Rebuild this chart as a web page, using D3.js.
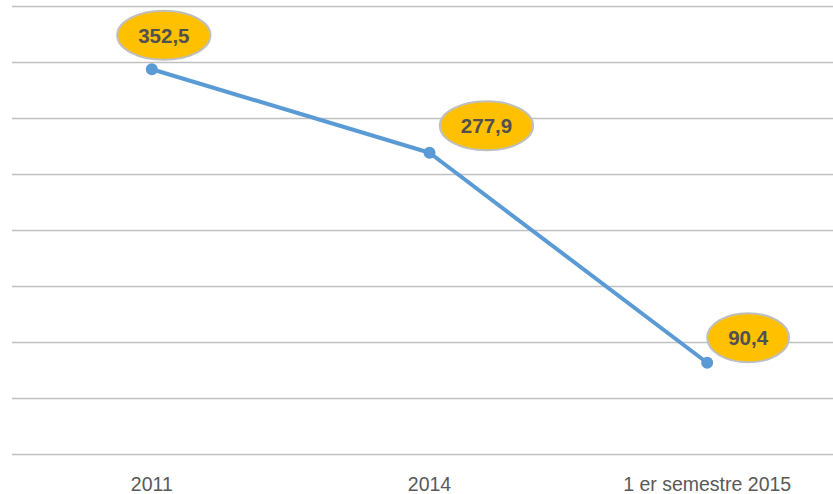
<!DOCTYPE html>
<html>
<head>
<meta charset="utf-8">
<script src="https://cdn.jsdelivr.net/npm/d3@7"></script>
<style>
  html, body { margin: 0; padding: 0; background: #fff; }
  svg { display: block; }
</style>
</head>
<body>
<svg id="chart" width="833" height="494"></svg>
<script>
// Data
const categories = ["2011", "2014", "1 er semestre 2015"];
const values = [352.5, 277.9, 90.4];
const valueLabels = ["352,5", "277,9", "90,4"];
const gridValues = [8.5, 58.5, 108.5, 158.5, 208.5, 258.5, 308.5, 358.5, 408.5];

// Layout (label bubble offsets relative to each point, in px)
const labelOffsets = [[12, -34], [57, -27], [41, -25]];

const W = 833, H = 494;
const svg = d3.select("#chart");

const x = d3.scaleBand().domain(categories).range([13, 846]).padding(0);
const y = d3.scaleLinear().domain([8.5, 408.5]).range([454.5, 6.5]);
const cx = d => x(d) + x.bandwidth() / 2;

// Gridlines
svg.append("g")
  .selectAll("line")
  .data(gridValues)
  .join("line")
  .attr("x1", 12).attr("x2", W)
  .attr("y1", d => y(d)).attr("y2", d => y(d))
  .attr("stroke", "#c0c0c0")
  .attr("stroke-width", 1.5);

// X axis labels
const xAxis = d3.axisBottom(x).tickSize(0).tickPadding(0);
const gx = svg.append("g").attr("transform", "translate(0,471)").call(xAxis);
gx.select(".domain").remove();
gx.selectAll("text")
  .attr("y", 20)
  .attr("dy", 0)
  .attr("fill", "#595959")
  .style("font-family", "'Liberation Sans', Arial, sans-serif")
  .style("font-size", "19.5px");

// Line
const pts = categories.map((c, i) => ({ c, v: values[i], lbl: valueLabels[i], off: labelOffsets[i] }));
const line = d3.line().x(d => cx(d.c)).y(d => y(d.v));
svg.append("path")
  .datum(pts)
  .attr("d", line)
  .attr("fill", "none")
  .attr("stroke", "#5b9bd5")
  .attr("stroke-width", 4)
  .attr("stroke-linejoin", "round");

svg.append("g")
  .selectAll("circle")
  .data(pts)
  .join("circle")
  .attr("cx", d => cx(d.c))
  .attr("cy", d => y(d.v))
  .attr("r", 6)
  .attr("fill", "#5b9bd5");

// Data label bubbles
const lg = svg.append("g")
  .selectAll("g")
  .data(pts)
  .join("g")
  .attr("transform", d => `translate(${cx(d.c) + d.off[0]},${y(d.v) + d.off[1]})`);

const texts = lg.append("text")
  .attr("text-anchor", "middle")
  .attr("dy", "0.36em")
  .attr("fill", "#505050")
  .style("font-family", "'Liberation Sans', Arial, sans-serif")
  .style("font-weight", "bold")
  .style("font-size", "20.5px")
  .text(d => d.lbl);

texts.each(function(d) { d.tw = this.getComputedTextLength(); });

lg.insert("ellipse", "text")
  .attr("rx", d => d.tw / 2 + 21)
  .attr("ry", 24.5)
  .attr("fill", "#ffc000")
  .attr("stroke", "#bfbfbf")
  .attr("stroke-width", 2);
</script>
</body>
</html>
